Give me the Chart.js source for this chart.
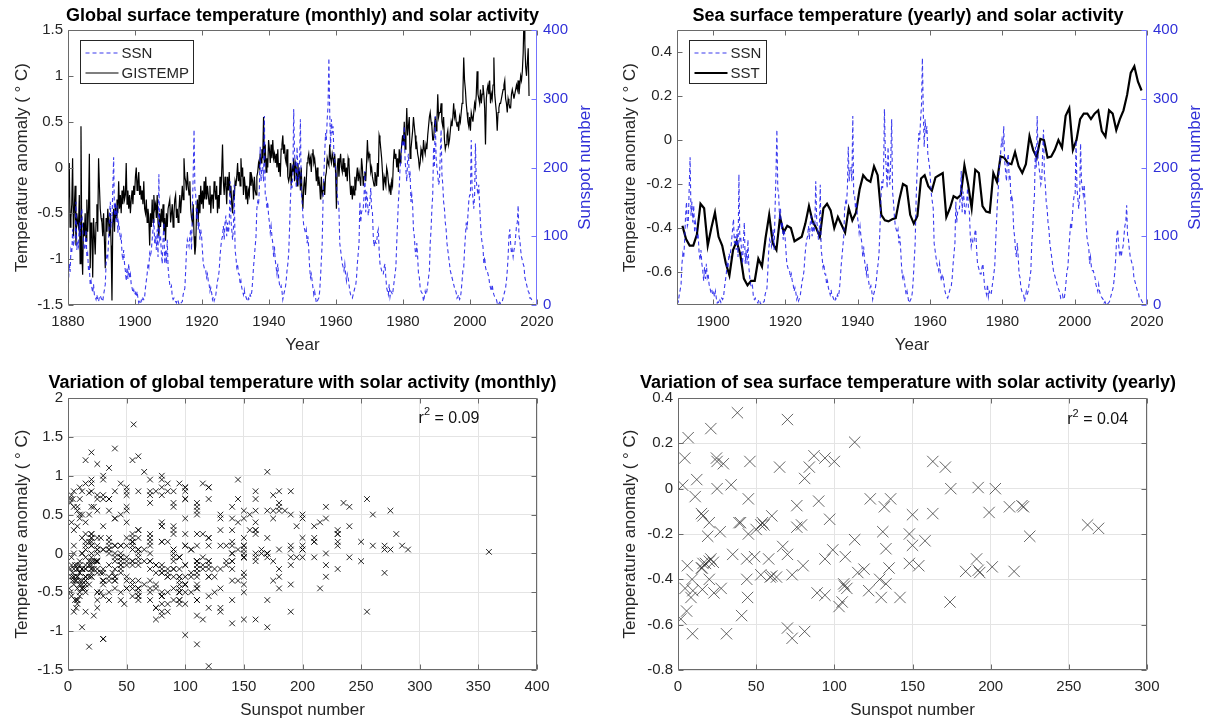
<!DOCTYPE html>
<html>
<head>
<meta charset="utf-8">
<script src="https://cdn.jsdelivr.net/npm/chart.js@4.4.1/dist/chart.umd.min.js"></script>
<style>
  body { margin: 0; background: #fff; }
  #wrap { position: relative; width: 1211px; height: 721px; }
  canvas { position: absolute; }
</style>
</head>
<body>
<div id="wrap">
  <canvas id="c1" width="605" height="360" style="left:0;top:0"></canvas>
  <canvas id="c2" width="606" height="360" style="left:605px;top:0"></canvas>
  <canvas id="c3" width="605" height="361" style="left:0;top:360px"></canvas>
  <canvas id="c4" width="606" height="361" style="left:605px;top:360px"></canvas>
</div>
<script>
// quarterly samples of the monthly series, starting 1880
const qStart = 1880;

// sunspot number, 4 values per year, 1880-2018
const ssnQ = [
  30,60,48,80, 75,110,85,95, 95,150,80,90, 85,120,100,130, 140,110,95,80,
  85,110,70,75, 50,55,30,35, 25,18,30,15, 12,8,15,7, 5,12,14,10,
  8,5,15,22, 30,60,75,70, 95,130,150,115, 120,170,215,130, 150,120,145,105,
  120,110,95,100, 75,65,80,60, 50,35,55,38, 60,40,45,30, 25,18,22,15,
  18,12,20,10, 3,5,2,7, 4,10,8,12, 25,35,45,60, 55,75,70,80,
  95,110,125,90, 100,80,110,70, 190,95,100,75, 60,95,120,60, 80,60,95,55,
  40,30,25,28, 12,8,10,6, 5,3,8,6, 1,3,2,4, 5,15,20,24,
  50,80,95,90, 85,100,110,80, 140,190,255,170, 160,125,140,110, 120,95,110,100,
  80,60,55,50, 50,40,45,35, 30,20,25,18, 8,12,6,10, 15,25,35,40,
  50,70,85,95, 100,115,95,120, 130,100,120,105, 115,180,125,110, 95,110,175,80,
  70,55,60,45, 45,30,35,25, 20,15,22,12, 12,8,5,10, 8,15,12,20,
  35,55,70,85, 100,140,150,145, 170,230,180,200, 200,180,275,160, 160,140,150,130,
  120,105,115,100, 90,70,85,65, 55,45,60,40, 30,25,28,20, 8,15,20,25,
  35,50,60,75, 110,150,180,170, 190,285,220,200, 170,230,190,175, 210,270,165,150,
  130,115,110,105, 110,90,100,80, 55,40,45,35, 25,15,20,12, 3,5,8,10,
  20,40,65,90, 150,190,220,250, 240,270,290,359, 280,230,270,250, 260,220,210,200,
  180,160,150,140, 90,80,70,60, 55,50,60,45, 35,45,40,30, 20,15,12,10,
  15,20,25,28, 40,60,75,90, 150,120,135,140, 140,160,195,135, 165,155,130,140,
  150,170,140,135, 100,85,95,90, 90,105,110,80, 60,55,50,45, 45,55,60,40,
  25,20,15,30, 12,20,18,15, 25,35,45,55, 90,120,150,170, 200,210,230,240,
  230,260,210,195, 180,210,220,185, 190,150,160,145, 110,100,80,70, 90,70,45,40,
  25,20,18,15, 5,12,20,15, 20,30,40,50, 90,110,140,160, 230,200,275,215,
  200,190,175,180, 220,255,190,175, 150,140,120,110, 90,80,70,60, 50,45,40,35,
  30,25,22,18, 10,12,15,8, 10,20,35,50, 55,80,100,120, 110,130,150,160,
  160,240,170,155, 140,160,235,180, 170,160,175,145, 120,100,90,85, 60,70,55,50,
  50,45,40,30, 25,20,30,20, 15,12,10,8, 3,5,2,4, 2,3,5,10,
  15,20,25,35, 50,70,100,110, 90,75,80,70, 80,85,100,115, 120,145,100,95,
  80,70,65,60, 56,40,35,30, 25,20,18,10, 10,8,5,3
];

// GISTEMP anomaly, 4 values per year, 1880 - mid 2017
const tempQ = [
  -0.35,0.05,-0.65,-0.55, -0.4,0.1,-0.75,-0.45, -0.2,-0.85,-0.5,-0.6, -0.65,-0.3,-1.05,0.45, -0.9,-1.17,-0.6,-0.75,
  -0.5,-0.8,-0.35,-0.7, -0.45,0.15,-1.1,-0.6, -0.7,-1.2,-0.55,-0.75, -0.95,-0.6,-0.4,-0.7, 0.1,-0.2,-0.45,-0.55,
  -0.6,-0.75,-0.5,-0.8, -1.1,-0.55,-0.7,-0.45, -0.6,-0.75,-0.5,-0.85, -1.45,-0.6,-0.45,-0.7, -0.4,-0.55,-0.35,-0.5,
  -0.15,-0.45,-0.3,-0.5, -0.25,-0.4,-0.2,-0.35, -0.3,0.05,-0.4,-0.25, -0.45,-0.3,-0.5,-0.35, -0.25,-0.4,-0.2,-0.3,
  -0.1,0.0,-0.25,-0.15, -0.05,-0.3,-0.2,-0.35, -0.25,-0.4,-0.15,-0.45, -0.5,-0.35,-0.6,-0.45, -0.55,-0.85,-0.5,-0.65,
  -0.35,-0.6,-0.3,-0.45, -0.4,-0.55,-0.3,-0.6, -0.75,-0.5,-0.65,-0.45, -0.6,-0.4,-0.7,-0.55, -0.8,-0.5,-0.65,-0.45,
  -0.45,-0.35,-0.6,-0.5, -0.4,-0.65,-0.5,-0.35, -0.3,-0.55,-0.45,-0.6, -0.45,-0.3,-0.5,-0.35, -0.2,-0.35,0.1,-0.1,
  -0.15,-0.25,-0.05,-0.2, -0.3,-0.15,-0.45,-0.55, -0.6,-0.4,-0.75,-0.95, -0.85,-0.5,-0.35,-0.6, -0.3,-0.5,-0.2,-0.4,
  -0.25,-0.45,-0.15,-0.35, -0.1,-0.35,-0.2,-0.3, -0.4,-0.2,-0.5,-0.3, -0.3,-0.45,-0.15,-0.25, -0.35,-0.2,-0.5,-0.3,
  -0.45,-0.1,-0.3,-0.05, 0.25,-0.15,-0.3,-0.1, -0.2,-0.4,-0.1,-0.25, -0.05,-0.3,-0.2,-0.4, -0.5,-0.25,-0.35,-0.15,
  -0.2,-0.1,0.05,-0.15, -0.05,-0.2,0.1,-0.1, 0.0,-0.3,-0.1,-0.2, -0.35,-0.2,-0.4,-0.25, -0.3,-0.05,-0.2,-0.1,
  -0.15,-0.35,-0.1,-0.25, -0.3,-0.1,-0.05,0.05, 0.0,0.15,0.05,0.2, 0.1,0.55,0.05,0.25, -0.05,0.1,0.0,0.3,
  0.2,0.05,0.25,0.1, 0.3,0.1,0.15,0.05, 0.15,0.0,0.2,-0.05, 0.05,-0.1,0.2,0.25, 0.35,0.15,0.25,0.1,
  0.05,0.2,-0.1,-0.15, -0.1,0.05,-0.2,0.0, -0.05,0.1,-0.15,0.05, 0.0,-0.2,0.05,-0.1, -0.05,-0.25,0.0,-0.3,
  -0.45,-0.2,-0.1,-0.3, -0.15,0.05,0.1,0.15, 0.05,0.1,-0.05,0.15, 0.2,0.05,0.1,0.0, -0.15,0.0,-0.2,-0.1,
  -0.2,-0.35,-0.1,-0.3, -0.25,-0.15,-0.3,-0.1, -0.05,0.1,0.05,0.02, 0.25,0.1,0.05,0.15, 0.1,0.0,0.15,-0.05,
  -0.45,0.0,0.1,-0.1, 0.05,0.15,0.0,-0.05, 0.1,-0.05,0.05,-0.1, 0.0,-0.15,0.1,0.05, -0.15,-0.3,-0.2,-0.35,
  -0.2,-0.3,-0.1,-0.25, -0.1,0.0,-0.15,-0.05, -0.05,-0.2,0.1,0.0, -0.2,-0.1,-0.05,-0.15, 0.05,0.3,0.1,0.15,
  0.1,-0.05,0.0,-0.1, -0.15,-0.2,-0.05,-0.1, -0.2,0.05,-0.1,0.35, 0.3,0.2,0.1,-0.05, -0.25,-0.1,-0.15,-0.2,
  0.0,-0.05,-0.15,-0.25, -0.2,-0.3,-0.15,-0.2, 0.05,0.2,0.1,0.15, 0.0,0.1,-0.05,0.2, 0.05,0.15,0.25,0.35,
  0.25,0.5,0.2,0.35, 0.65,0.35,0.45,0.55, 0.1,0.2,0.3,0.4, 0.55,0.45,0.35,0.2, 0.25,0.15,0.1,0.0,
  0.05,0.2,0.15,0.1, 0.3,0.2,0.15,0.25, 0.2,0.35,0.45,0.55, 0.6,0.5,0.45,0.3, 0.3,0.45,0.55,0.4,
  0.5,0.8,0.55,0.6, 0.6,0.7,0.5,0.45, 0.55,0.3,0.2,0.25, 0.35,0.4,0.25,0.3, 0.4,0.5,0.45,0.55,
  0.7,0.55,0.6,0.5, 0.45,0.5,0.4,0.55, 0.5,0.6,0.7,0.8, 1.2,0.95,0.85,0.7, 0.6,0.5,0.45,0.55,
  0.4,0.6,0.55,0.5, 0.6,0.7,0.65,0.8, 1.05,0.8,0.75,0.7, 0.85,0.7,0.8,0.9, 0.8,0.65,0.25,0.75,
  0.85,0.9,0.8,0.95, 0.7,0.8,0.75,0.9, 1.2,0.8,0.7,0.6, 0.4,0.6,0.65,0.7, 0.7,0.75,0.8,0.85,
  0.9,0.95,0.75,0.7, 0.6,0.75,0.7,0.65, 0.65,0.8,0.85,0.8, 0.75,0.8,0.85,0.9, 0.85,0.95,0.8,0.9,
  1.0,0.95,1.05,1.25, 1.66,1.35,1.1,1.0, 1.15,1.3,0.78
];

// yearly values, 1891-2018
const yStart = 1891;
const sstYear = [
  -0.39,-0.45,-0.48,-0.48,-0.43,-0.29,-0.31,-0.48,-0.40,-0.33,
  -0.44,-0.48,-0.56,-0.615,-0.50,-0.46,-0.52,-0.63,-0.66,-0.64,
  -0.64,-0.54,-0.575,-0.445,-0.34,-0.47,-0.50,-0.35,-0.42,-0.39,
  -0.40,-0.46,-0.45,-0.44,-0.38,-0.30,-0.37,-0.40,-0.44,-0.31,
  -0.29,-0.32,-0.40,-0.35,-0.385,-0.42,-0.31,-0.365,-0.33,-0.225,
  -0.16,-0.18,-0.19,-0.12,-0.16,-0.34,-0.365,-0.37,-0.36,-0.355,
  -0.27,-0.20,-0.21,-0.34,-0.38,-0.345,-0.175,-0.16,-0.21,-0.23,
  -0.17,-0.16,-0.15,-0.35,-0.31,-0.255,-0.265,-0.25,-0.115,-0.20,
  -0.31,-0.135,-0.15,-0.30,-0.325,-0.33,-0.15,-0.19,-0.075,-0.08,
  -0.105,-0.11,-0.055,-0.12,-0.15,-0.11,0.017,-0.045,-0.08,0.005,
  0.0,-0.08,-0.075,-0.045,0.0,-0.035,0.11,0.145,-0.045,0.0,
  0.095,0.12,0.12,0.095,0.12,0.135,0.04,0.015,0.135,0.12,
  0.045,0.095,0.135,0.205,0.305,0.335,0.265,0.225
];
const ssnYear = [
  59,122,142,130,106.5,70,44,44.5,20,16,
  4.5,8.3,40.7,70,105,89,103,81,73,31,
  9.3,5.5,1.8,15.6,80,94,174,135,106,63,
  44,23,9.5,27.6,73,107,115,129,108,58,
  35,20,9,15.5,60,133,191,184,148,113,
  79,50,27,16,55,154,215,193,192,119,
  99,45,19,6,53,201,269,262,225,158,
  76,53,40,15,21,67,133,150,150,148,
  94,97,54,49,22.6,17.6,39,131,220,221,
  199,163,90,60,20,15,34,123,212,192,
  203,132,76,45,25,11,29,87,136,174.5,
  171,163,100,65,46,24.6,12,3,4.3,25,
  81,84,94,113,70,38,21,6.5
];

// tick values
const yearTicks1 = [1880, 1900, 1920, 1940, 1960, 1980, 2000, 2020];
const yearTicks2 = [1900, 1920, 1940, 1960, 1980, 2000, 2020];
const gistTicks = [-1.5, -1, -0.5, 0, 0.5, 1, 1.5];
const sstTicks = [-0.6, -0.4, -0.2, 0, 0.2, 0.4];
const ssnTicks = [0, 100, 200, 300, 400];
const sc1X = [0, 50, 100, 150, 200, 250, 300, 350, 400];
const sc1Y = [-1.5, -1, -0.5, 0, 0.5, 1, 1.5, 2];
const sc2X = [0, 50, 100, 150, 200, 250, 300];
const sc2Y = [-0.8, -0.6, -0.4, -0.2, 0, 0.2, 0.4];

const FONT = '"Liberation Sans", Arial, Helvetica, sans-serif';
const INK = '#262626';
const BLUE_TXT = '#3030d8';
const BLUE_AX = '#7373ff';
const SSN_COL = 'rgba(25,25,235,0.85)';
const DEG = 'Temperature anomaly ( \u00B0 C)';

Chart.defaults.font.family = FONT;
Chart.defaults.color = INK;
Chart.defaults.animation = false;

const qx = i => qStart + (i + 0.5) / 4;
const fixed = arr => s => { s.ticks = arr.map(v => ({ value: v })); };
const num = v => String(v);

// matlab-ish box with inward tick marks
const frame = {
  id: 'frame',
  afterDraw(chart) {
    const { ctx, chartArea: a, scales } = chart;
    const L = Math.round(a.left) + 0.5, R = Math.round(a.right) - 0.5;
    const T = Math.round(a.top) + 0.5, B = Math.round(a.bottom) - 0.5;
    const tl = 5;
    ctx.save();
    ctx.lineWidth = 1;
    ctx.strokeStyle = '#6a6a6a';
    ctx.beginPath();
    scales.x.ticks.forEach(t => {
      const p = Math.round(scales.x.getPixelForValue(t.value)) + 0.5;
      ctx.moveTo(p, B); ctx.lineTo(p, B - tl);
      ctx.moveTo(p, T); ctx.lineTo(p, T + tl);
    });
    scales.y.ticks.forEach(t => {
      const p = Math.round(scales.y.getPixelForValue(t.value)) + 0.5;
      ctx.moveTo(L, p); ctx.lineTo(L + tl, p);
      if (!scales.y2) { ctx.moveTo(R, p); ctx.lineTo(R - tl, p); }
    });
    ctx.moveTo(R, T); ctx.lineTo(L, T); ctx.lineTo(L, B); ctx.lineTo(R, B);
    if (!scales.y2) ctx.lineTo(R, T);
    ctx.stroke();
    if (scales.y2) {
      ctx.strokeStyle = BLUE_AX;
      ctx.beginPath();
      ctx.moveTo(R, T); ctx.lineTo(R, B);
      scales.y2.ticks.forEach(t => {
        const p = Math.round(scales.y2.getPixelForValue(t.value)) + 0.5;
        ctx.moveTo(R, p); ctx.lineTo(R - tl, p);
      });
      ctx.stroke();
    }
    ctx.restore();
  }
};

// legend box inside the axes
const inset = {
  id: 'inset',
  afterDatasetsDraw(chart, args, o) {
    const { ctx, chartArea: a } = chart;
    const x0 = Math.round(a.left) + 12.5, y0 = Math.round(a.top) + 10.5, h = 43;
    ctx.save();
    ctx.fillStyle = '#fff';
    ctx.fillRect(x0, y0, o.w, h);
    ctx.strokeStyle = INK; ctx.lineWidth = 1;
    ctx.strokeRect(x0, y0, o.w, h);
    ctx.font = '15px ' + FONT;
    ctx.textBaseline = 'middle';
    o.items.forEach((it, k) => {
      const yy = y0 + 12.5 + k * 20;
      ctx.beginPath();
      ctx.setLineDash(it.dash || []);
      ctx.strokeStyle = it.color; ctx.lineWidth = it.width;
      ctx.moveTo(x0 + 5, yy); ctx.lineTo(x0 + 38, yy);
      ctx.stroke();
      ctx.setLineDash([]);
      ctx.fillStyle = INK;
      ctx.fillText(it.label, x0 + 41, yy + 1);
    });
    ctx.restore();
  }
};

// right-hand axis label, read bottom to top like the left one
const sideTitle = {
  id: 'sideTitle',
  afterDraw(chart, args, o) {
    const { ctx, chartArea: a } = chart;
    ctx.save();
    ctx.translate(o.x, (a.top + a.bottom) / 2);
    ctx.rotate(-Math.PI / 2);
    ctx.font = '17px ' + FONT;
    ctx.fillStyle = BLUE_TXT;
    ctx.textAlign = 'center';
    ctx.textBaseline = 'middle';
    ctx.fillText(o.text, 0, 0);
    ctx.restore();
  }
};

// r^2 annotation
const note = {
  id: 'note',
  afterDraw(chart, args, o) {
    const { ctx, scales } = chart;
    let x = scales.x.getPixelForValue(o.x);
    const y = scales.y.getPixelForValue(o.y);
    ctx.save();
    ctx.fillStyle = '#111';
    ctx.textBaseline = 'middle';
    ctx.font = '16px ' + FONT;
    ctx.fillText('r', x, y); x += ctx.measureText('r').width;
    ctx.font = '11px ' + FONT;
    ctx.fillText('2', x, y - 6); x += ctx.measureText('2').width;
    ctx.font = '16px ' + FONT;
    ctx.fillText(o.text, x, y);
    ctx.restore();
  }
};

function titleOpt(text, top, bottom) {
  return { display: true, text, color: '#000', fullSize: true,
           font: { size: 18, weight: 'bold' }, padding: { top, bottom } };
}
function xAxis(min, max, ticks, height, title, grid, tpad) {
  return {
    type: 'linear', min, max, afterBuildTicks: fixed(ticks),
    afterFit: s => { s.height = height; },
    grid: grid ? { color: '#e4e4e4', drawTicks: false } : { display: false, drawTicks: false },
    border: { display: false },
    ticks: { font: { size: 15 }, padding: 8, maxRotation: 0, autoSkip: false, callback: num },
    title: { display: true, text: title, font: { size: 17 }, padding: { top: 0, bottom: tpad } }
  };
}
function yAxis(pos, min, max, ticks, width, title, grid, tpad, color) {
  return {
    type: 'linear', position: pos, min, max, afterBuildTicks: fixed(ticks),
    afterFit: s => { s.width = width; },
    grid: grid ? { color: '#e4e4e4', drawTicks: false } : { display: false, drawTicks: false },
    border: { display: false },
    ticks: { font: { size: 15 }, padding: pos === 'left' ? 5 : 6, autoSkip: false, callback: num, color: color || INK },
    title: { display: !!title, text: title, font: { size: 17 }, color: color || INK, padding: { top: tpad, bottom: 0 } }
  };
}
// empty right-hand strip so the plot sits where the others do
function spacer(width) {
  return {
    type: 'linear', position: 'right', display: true,
    afterFit: s => { s.width = width; },
    grid: { display: false, drawTicks: false }, border: { display: false },
    ticks: { display: false }
  };
}
const basePlugins = { legend: { display: false }, tooltip: { enabled: false } };

// top left: monthly global temperature and SSN
new Chart(document.getElementById('c1'), {
  type: 'line',
  data: { datasets: [
    { label: 'SSN', yAxisID: 'y2', data: ssnQ.map((v, i) => ({ x: qx(i), y: v })),
      borderColor: SSN_COL, borderWidth: 1.1, borderDash: [4, 3], pointRadius: 0 },
    { label: 'GISTEMP', yAxisID: 'y', data: tempQ.map((v, i) => ({ x: qx(i), y: v })),
      borderColor: '#000', borderWidth: 1.2, pointRadius: 0 }
  ] },
  options: {
    responsive: false, animation: false, layout: { padding: 0 },
    plugins: { ...basePlugins,
      title: titleOpt('Global surface temperature (monthly) and solar activity', 5, 3.4),
      sideTitle: { x: 585, text: 'Sunspot number' },
      inset: { w: 113, items: [
        { label: 'SSN', color: SSN_COL, width: 1.1, dash: [4, 3] },
        { label: 'GISTEMP', color: '#000', width: 1.2 } ] } },
    scales: {
      x: xAxis(1880, 2020, yearTicks1, 55, 'Year', false, 4),
      y: yAxis('left', -1.5, 1.5, gistTicks, 68, DEG, false, 12),
      y2: yAxis('right', 0, 400, ssnTicks, 68, '', false, 0, BLUE_TXT)
    }
  },
  plugins: [frame, inset, sideTitle]
});

// top right: yearly SST and SSN
new Chart(document.getElementById('c2'), {
  type: 'line',
  data: { datasets: [
    { label: 'SSN', yAxisID: 'y2', data: ssnQ.map((v, i) => ({ x: qx(i), y: v })),
      borderColor: SSN_COL, borderWidth: 1.1, borderDash: [4, 3], pointRadius: 0 },
    { label: 'SST', yAxisID: 'y', data: sstYear.map((v, i) => ({ x: yStart + i + 0.5, y: v })),
      borderColor: '#000', borderWidth: 2.2, pointRadius: 0 }
  ] },
  options: {
    responsive: false, animation: false, layout: { padding: 0 },
    plugins: { ...basePlugins,
      title: titleOpt('Sea surface temperature (yearly) and solar activity', 5, 3.4),
      sideTitle: { x: 590, text: 'Sunspot number' },
      inset: { w: 77, items: [
        { label: 'SSN', color: SSN_COL, width: 1.1, dash: [4, 3] },
        { label: 'SST', color: '#000', width: 2.2 } ] } },
    scales: {
      x: xAxis(1890, 2020, yearTicks2, 55, 'Year', false, 4),
      y: yAxis('left', -0.75, 0.5, sstTicks, 72, DEG, false, 15),
      y2: yAxis('right', 0, 400, ssnTicks, 64, '', false, 0, BLUE_TXT)
    }
  },
  plugins: [frame, inset, sideTitle]
});

// bottom left: monthly temperature vs SSN
new Chart(document.getElementById('c3'), {
  type: 'scatter',
  data: { datasets: [{
    data: tempQ.map((v, i) => ({ x: ssnQ[i], y: v })),
    pointStyle: 'crossRot', pointRadius: 4, borderWidth: 1,
    borderColor: 'rgba(0,0,0,0.85)', backgroundColor: 'rgba(0,0,0,0)'
  }] },
  options: {
    responsive: false, animation: false, layout: { padding: 0 },
    plugins: { ...basePlugins,
      title: titleOpt('Variation of global temperature with solar activity (monthly)', 12.7, 3.7),
      note: { x: 299, y: 1.74, text: ' = 0.09' } },
    scales: {
      x: xAxis(0, 400, sc1X, 51, 'Sunspot number', true, 0),
      y: yAxis('left', -1.5, 2, sc1Y, 68, DEG, true, 12),
      pad: spacer(68)
    }
  },
  plugins: [frame, note]
});

// bottom right: yearly SST vs SSN
new Chart(document.getElementById('c4'), {
  type: 'scatter',
  data: { datasets: [{
    data: sstYear.map((v, i) => ({ x: ssnYear[i], y: v })),
    pointStyle: 'crossRot', pointRadius: 8, borderWidth: 0.9,
    borderColor: 'rgba(40,40,40,0.8)', backgroundColor: 'rgba(0,0,0,0)'
  }] },
  options: {
    responsive: false, animation: false, layout: { padding: 0 },
    plugins: { ...basePlugins,
      title: titleOpt('Variation of sea surface temperature with solar activity (yearly)', 12.7, 3.7),
      note: { x: 249, y: 0.303, text: ' = 0.04' } },
    scales: {
      x: xAxis(0, 300, sc2X, 51, 'Sunspot number', true, 0),
      y: yAxis('left', -0.8, 0.4, sc2Y, 73, DEG, true, 15),
      pad: spacer(64)
    }
  },
  plugins: [frame, note]
});
</script>
</body>
</html>
